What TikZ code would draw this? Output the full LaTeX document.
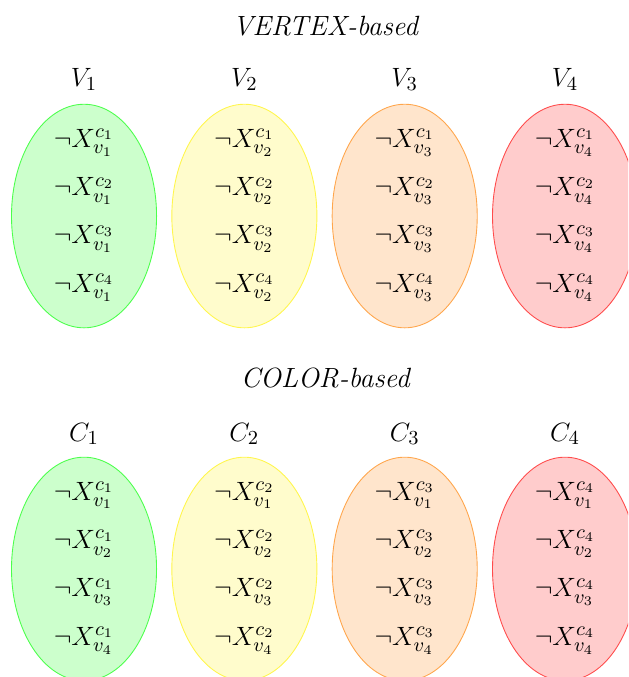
\documentclass[tikz,border=0pt]{standalone}
\usepackage{tikz}
\usetikzlibrary{positioning,calc,shapes.geometric}
\newcommand*{\negx}[2]{$\neg X^{c_{#1}}_{v_{#2}}$}

\begin{document}
\begin{tikzpicture}[
  every node/.style={font=\fontsize{12.6}{15}\selectfont},
  set/.style={ellipse,minimum width=2.31cm,minimum height=3.56cm,inner sep=0pt},
  lit/.style={inner sep=0pt}]
% Frame of the picture
\useasboundingbox (0,0) rectangle (10,-10.78);
\clip (0,0) rectangle (10,-10.78);
% Titles of the two groups
\node (vtitle) at (5.19,-0.41) {\textit{VERTEX-based}};
\node (ctitle) at (5.19,-6.02) {\textit{COLOR-based}};
% Vertex sets: literals for one vertex, all colors
\foreach \i/\col in {1/green,2/yellow,3/orange,4/red} {
  \node[set,fill=\col!20,draw=\col!70] (vset\i) at ({1.338+2.553*(\i-1)},-3.44) {};
  \node (vlab\i) at ({1.338+2.553*(\i-1)},-1.27) {$V_{\i}$};
  \foreach \j in {1,...,4}
    \node[lit] (vlit\i\j) at ($(vset\i.center)+(0,{1.17-0.77*(\j-1)})$) {\negx{\j}{\i}};
}
% Color sets: literals for one color, all vertices
\foreach \i/\col in {1/green,2/yellow,3/orange,4/red} {
  \node[set,fill=\col!20,draw=\col!70] (cset\i) at ({1.338+2.553*(\i-1)},-9.06) {};
  \node (clab\i) at ({1.338+2.553*(\i-1)},-6.91) {$C_{\i}$};
  \foreach \j in {1,...,4}
    \node[lit] (clit\i\j) at ($(cset\i.center)+(0,{1.17-0.77*(\j-1)})$) {\negx{\i}{\j}};
}
\end{tikzpicture}
\end{document}
